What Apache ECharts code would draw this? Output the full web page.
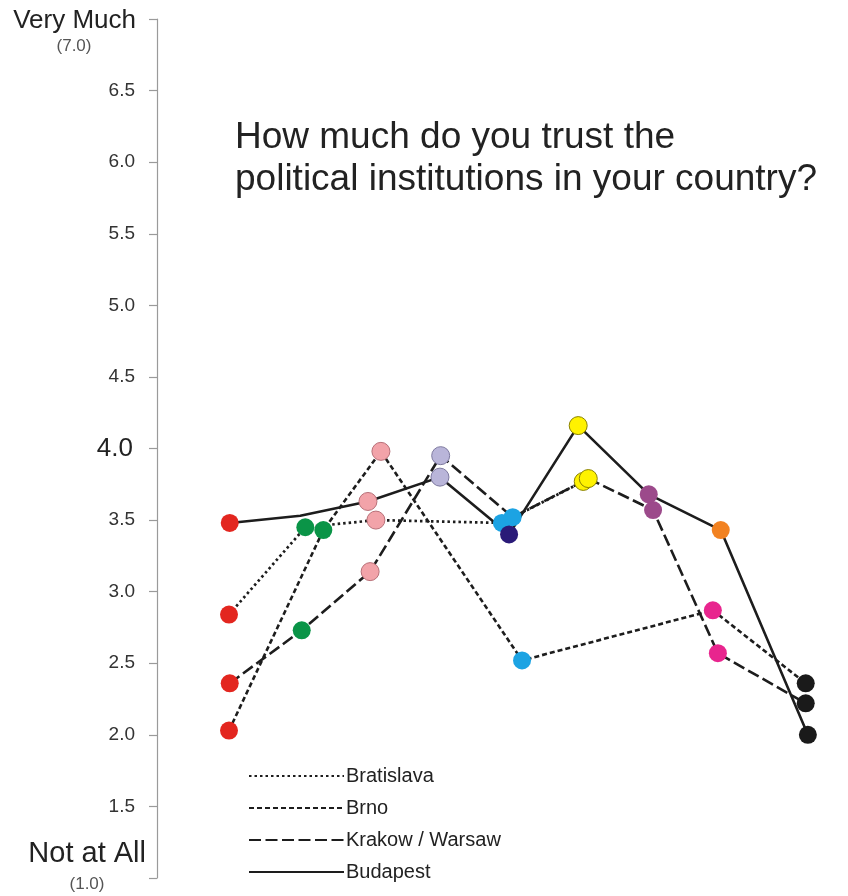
<!DOCTYPE html>
<html>
<head>
<meta charset="utf-8">
<script src="https://cdn.jsdelivr.net/npm/echarts@6/dist/echarts.min.js"></script>
<style>html,body{margin:0;padding:0;background:#fff;}#c{width:848px;height:896px;}</style>
</head>
<body>
<div id="c"></div>
<script>
// ---- data ----
const titleText = 'How much do you trust the\npolitical institutions in your country?';
const yTicks = [1.0, 1.5, 2.0, 2.5, 3.0, 3.5, 4.0, 4.5, 5.0, 5.5, 6.0, 6.5, 7.0];
const yTopLabel = 'Very Much';
const yBottomLabel = 'Not at All';

const cityNames = ['Bratislava', 'Brno', 'Krakow / Warsaw', 'Budapest'];

// horizontal position = institution group index (1..9) with the small offsets of the picture
const bratislavaX = [1.00, 2.06, 3.04, 4.79, 5.92];
const bratislavaY = [2.84, 3.45, 3.50, 3.48, 3.77];
const bratislavaGroup = ['red', 'green', 'pink', 'cyan', 'yellow'];

const brnoX = [1.00, 2.31, 3.11, 5.07, 7.72, 9.01];
const brnoY = [2.03, 3.43, 3.98, 2.52, 2.87, 2.36];
const brnoGroup = ['red', 'green', 'pink', 'cyan', 'magenta', 'black'];

const krakowX = [1.01, 2.01, 2.96, 3.94, 4.94, 5.99, 6.89, 7.79, 9.01];
const krakowY = [2.36, 2.73, 3.14, 3.95, 3.52, 3.79, 3.57, 2.57, 2.22];
const krakowGroup = ['red', 'green', 'pink', 'lavender', 'cyan', 'yellow', 'purple', 'magenta', 'black'];

const budapestX = [1.01, 1.99, 2.93, 3.93, 4.89, 5.85, 6.83, 7.83, 9.04];
const budapestY = [3.48, 3.53, 3.63, 3.80, 3.40, 4.16, 3.68, 3.43, 2.00];
const budapestGroup = ['red', null, 'pink', 'lavender', 'navy', 'yellow', 'purple', 'orange', 'black'];

// ---- styles ----
const groupColors = {
  red: '#E3261F', green: '#0A9447', pink: '#F2A3A9', lavender: '#B9B5D9',
  cyan: '#1CA3E3', navy: '#2A1A78', yellow: '#FFF200', purple: '#9C4A8B',
  orange: '#F28221', magenta: '#E8258E', black: '#1A1A1A'
};
const groupBorders = { pink: '#B87078', lavender: '#7E7AA0', yellow: '#8A8200' };
const lineDashes = [[2.5, 3], [5, 3], [12, 4.5], 'solid'];
const FONT = '"Liberation Sans", Arial, sans-serif';
const LINE = '#1d1d1d';

const cityX = [bratislavaX, brnoX, krakowX, budapestX];
const cityY = [bratislavaY, brnoY, krakowY, budapestY];
const cityG = [bratislavaGroup, brnoGroup, krakowGroup, budapestGroup];

const series = [];
cityNames.forEach((name, i) => {
  series.push({
    name: name,
    type: 'line',
    symbol: 'none',
    z: 2,
    color: LINE,
    lineStyle: { color: LINE, width: i === 0 ? 2.7 : 2.6, type: lineDashes[i], cap: 'butt' },
    data: cityX[i].map((x, k) => [x, cityY[i][k]])
  });
});
cityNames.forEach((name, i) => {
  const pts = [];
  cityX[i].forEach((x, k) => {
    const g = cityG[i][k];
    if (!g) return;
    pts.push({
      value: [x, cityY[i][k]],
      itemStyle: {
        color: groupColors[g],
        opacity: 1,
        borderColor: groupBorders[g] || groupColors[g],
        borderWidth: groupBorders[g] ? 1 : 0
      }
    });
  });
  series.push({
    name: name + ' points',
    type: 'scatter',
    symbol: 'circle',
    symbolSize: 18,
    z: 5 + i,
    itemStyle: { opacity: 1 },
    emphasis: { disabled: true },
    data: pts
  });
});

function yLabel(v) {
  const r = Math.round(v * 10) / 10;
  if (r === 7) return '{sp| }\n{big|' + yTopLabel + '}\n{small|(7.0)}';
  if (r === 1) return '{big2|' + yBottomLabel + '}\n{small2|(1.0)}\n{sp2| }';
  if (r === 4) return '{mid|4.0}';
  return '{n|' + r.toFixed(1) + '}';
}

const chart = echarts.init(document.getElementById('c'));
chart.setOption({
  backgroundColor: '#ffffff',
  animation: false,
  title: {
    text: titleText,
    left: 230,
    top: 112,
    textStyle: { fontFamily: FONT, fontSize: 37, fontWeight: 'normal', color: '#222', lineHeight: 42 }
  },
  legend: {
    data: cityNames,
    orient: 'vertical',
    left: 248,
    top: 766,
    padding: 0,
    itemWidth: 95,
    itemHeight: 20,
    itemGap: 12,
    itemStyle: { opacity: 0, borderWidth: 0 },
    textStyle: { fontFamily: FONT, fontSize: 20, color: '#222', lineHeight: 20, padding: [0, 0, 0, -3] }
  },
  grid: { left: 157, right: 7, top: 19, bottom: 18, outerBoundsMode: 'none', containLabel: false },
  xAxis: {
    type: 'value', min: 0, max: 9.5,
    show: false, splitLine: { show: false }
  },
  yAxis: {
    type: 'value', min: 1, max: 7, interval: 0.5,
    splitLine: { show: false },
    axisLine: { show: true, lineStyle: { color: '#9a9a9a', width: 1.2 } },
    axisTick: { show: true, length: 8, lineStyle: { color: '#9a9a9a', width: 1.2 } },
    axisLabel: {
      margin: 11,
      showMinLabel: true,
      showMaxLabel: true,
      formatter: yLabel,
      fontFamily: FONT,
      rich: {
        n: { fontFamily: FONT, fontSize: 19, color: '#333', padding: [0, 11, 0, 0] },
        mid: { fontFamily: FONT, fontSize: 26, color: '#222', padding: [0, 13, 0, 0] },
        sp: { fontSize: 10, lineHeight: 28 },
        big: { fontFamily: FONT, fontSize: 26, color: '#222', lineHeight: 26, padding: [0, 10, 0, 0] },
        small: { fontFamily: FONT, fontSize: 17, color: '#555', lineHeight: 24, width: 124, align: 'center', padding: [0, 10, 0, 0] },
        big2: { fontFamily: FONT, fontSize: 29, color: '#222', lineHeight: 32 },
        small2: { fontFamily: FONT, fontSize: 17, color: '#555', lineHeight: 28, width: 118, align: 'center' },
        sp2: { fontSize: 10, lineHeight: 20 }
      }
    }
  },
  series: series
});
</script>
</body>
</html>
